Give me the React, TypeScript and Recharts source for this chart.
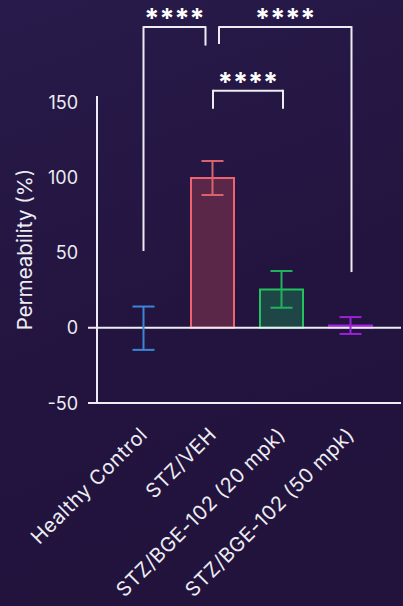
import React from 'react';
import {
  BarChart,
  Bar,
  XAxis,
  YAxis,
  Cell,
  ErrorBar,
  ReferenceLine,
} from 'recharts';

// groups and readings (mean ± error)
const groups = ['Healthy Control', 'STZ/VEH', 'STZ/BGE-102 (20 mpk)', 'STZ/BGE-102 (50 mpk)'];
const means = [-0.3, 99.5, 25.5, 1.5];
const errors = [14.4, 11.3, 12.2, 5.6];
const yTicks = [-50, 0, 50, 100, 150];

// significance brackets: from/to group, top level, where each leg ends
const bracketFrom = ['Healthy Control', 'STZ/VEH', 'STZ/VEH'];
const bracketTo = ['STZ/VEH', 'STZ/BGE-102 (50 mpk)', 'STZ/BGE-102 (20 mpk)'];
const bracketTop = [199.8, 199.8, 157.5];
const bracketLeftEnd = [51, 188.5, 145.5];
const bracketRightEnd = [187.5, 37, 145.5];
const bracketText = ['****', '****', '****'];
// small nudges so the two brackets meeting at STZ/VEH don't overlap
const bracketLeftShift = [0, 6.5, 0.5];
const bracketRightShift = [-7, 1, 1.5];

// healthy control has no visible bar, only its error bar
const strokeColors = ['none', '#f0626f', '#22c25e', '#a321e2'];
const fillColors = ['none', '#5a2749', '#1e4647', '#6b1a9c'];
const errColors = ['#3b86d6', '#d8636f', '#21b25e', '#9a22d8'];

const FONT = 'Inter, "Open Sans", sans-serif';
const TEXT = '#ececf2';
const LINE = '#ececf2';

const data = groups.map((name, i) => {
  const row: Record<string, any> = { name, value: means[i] };
  row[`e${i}`] = errors[i];
  return row;
});

const YTick = (props: any) => {
  const { x, y, payload } = props;
  const v = payload.value;
  return (
    <g>
      <text
        x={x}
        y={y}
        dy={6.5}
        textAnchor="end"
        fill={TEXT}
        fontSize={18}
        fontFamily={FONT}
      >
        {v}
      </text>
      {v <= 0 && (
        <line x1={x + 10} x2={x + 19} y1={y} y2={y} stroke={LINE} strokeWidth={2} />
      )}
    </g>
  );
};

const XTick = (props: any) => {
  const { x, y, payload } = props;
  const px = x + 5;
  const py = y + 25;
  return (
    <text
      x={px}
      y={py}
      transform={`rotate(-45, ${px}, ${py})`}
      textAnchor="end"
      fill={TEXT}
      fontSize={20}
      letterSpacing={0.5}
      fontFamily={FONT}
    >
      {payload.value}
    </text>
  );
};

const shiftedLine = (dx1: number, dx2: number, text?: string) => (props: any) => {
  const { x1, y1, x2, y2 } = props;
  const a = x1 + dx1;
  const b = x2 + dx2;
  return (
    <g>
      <line x1={a} y1={y1} x2={b} y2={y2} stroke={LINE} strokeWidth={2} />
      {text && (
        <text
          x={(a + b) / 2}
          y={y1 + 1}
          textAnchor="middle"
          fill="#ffffff"
          fontSize={27}
          fontWeight={700}
          fontFamily={FONT}
        >
          {text}
        </text>
      )}
    </g>
  );
};

export default function App() {
  return (
    <div
      style={{
        position: 'fixed',
        left: 0,
        top: 0,
        width: 403,
        height: 606,
        background: 'linear-gradient(160deg, #281a4a 0%, #23143f 50%, #22133d 100%)',
      }}
    >
      <BarChart
        width={403}
        height={606}
        data={data}
        margin={{ top: 96, right: 2, left: 0, bottom: 0 }}
        barSize={43}
      >
        <YAxis
          width={97}
          domain={[-50, 154]}
          ticks={yTicks}
          allowDataOverflow
          tickLine={false}
          tickSize={9}
          tickMargin={10}
          tick={<YTick />}
          axisLine={{ stroke: LINE, strokeWidth: 2 }}
          label={{
            value: 'Permeability (%)',
            angle: -90,
            position: 'insideLeft',
            offset: 25,
            style: { textAnchor: 'middle', fill: TEXT, fontSize: 20.5, fontFamily: FONT },
          }}
        />
        <XAxis
          dataKey="name"
          height={203}
          interval={0}
          padding={{ left: 12, right: 16 }}
          tickLine={false}
          tick={<XTick />}
          axisLine={{ stroke: LINE, strokeWidth: 2 }}
        />
        <ReferenceLine y={0} stroke={LINE} strokeWidth={2} />
        <Bar dataKey="value" strokeWidth={2} isAnimationActive={false}>
          {data.map((_, i) => (
            <Cell key={`c-${i}`} fill={fillColors[i]} stroke={strokeColors[i]} />
          ))}
          {groups.map((_, i) => (
            <ErrorBar
              key={`e-${i}`}
              dataKey={`e${i}`}
              width={11}
              stroke={errColors[i]}
              strokeWidth={2}
              isAnimationActive={false}
            />
          ))}
        </Bar>
        {bracketFrom.map((from, i) => (
          <ReferenceLine
            key={`bt-${i}`}
            ifOverflow="visible"
            segment={[
              { x: from, y: bracketTop[i] },
              { x: bracketTo[i], y: bracketTop[i] },
            ]}
            shape={shiftedLine(bracketLeftShift[i], bracketRightShift[i], bracketText[i])}
          />
        ))}
        {bracketFrom.map((from, i) => (
          <ReferenceLine
            key={`bl-${i}`}
            ifOverflow="visible"
            segment={[
              { x: from, y: bracketTop[i] + 0.6 },
              { x: from, y: bracketLeftEnd[i] },
            ]}
            shape={shiftedLine(bracketLeftShift[i], bracketLeftShift[i])}
          />
        ))}
        {bracketFrom.map((_, i) => (
          <ReferenceLine
            key={`br-${i}`}
            ifOverflow="visible"
            segment={[
              { x: bracketTo[i], y: bracketTop[i] + 0.6 },
              { x: bracketTo[i], y: bracketRightEnd[i] },
            ]}
            shape={shiftedLine(bracketRightShift[i], bracketRightShift[i])}
          />
        ))}
      </BarChart>
    </div>
  );
}
